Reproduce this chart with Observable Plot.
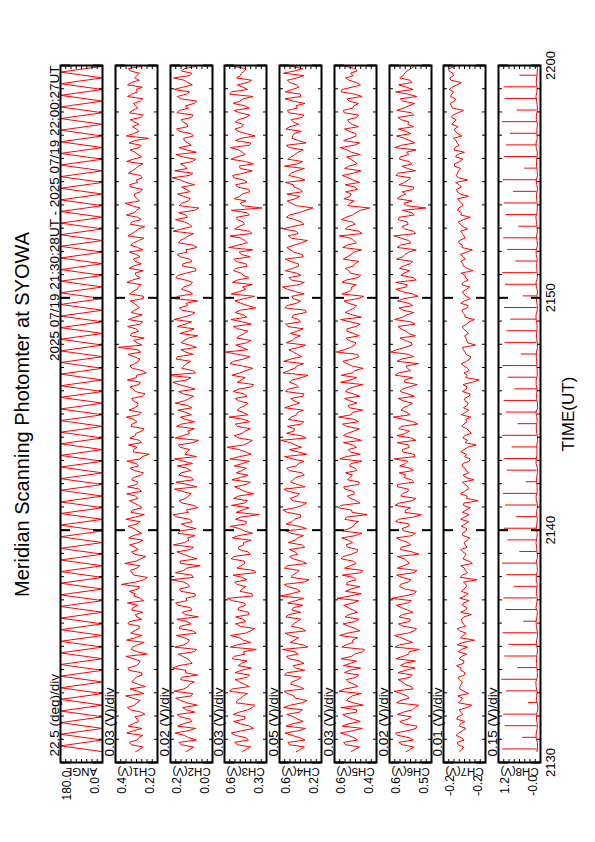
<!DOCTYPE html>
<html><head><meta charset="utf-8">
<script src="https://cdn.jsdelivr.net/npm/d3@7"></script>
<script src="https://cdn.jsdelivr.net/npm/@observablehq/plot@0.6"></script>
<style>
html,body{margin:0;padding:0;background:#fff;overflow:hidden;width:595px;height:842px}
#land{position:absolute;left:0;top:0;width:842px;height:595px;transform-origin:0 0;transform:translate(0,842px) rotate(-90deg);font-family:"Liberation Sans",Arial,Helvetica,sans-serif;color:#000}
#title{position:absolute;left:79px;width:697px;top:12px;font-size:20px;line-height:20px;text-align:center;white-space:nowrap}
svg{overflow:visible}
</style></head>
<body><div id="land"><div id="title"></div></div>
<script>
// ---------- data ----------
const titleText = "Meridian Scanning Photomter at SYOWA";
const rangeText = "2025 07/19 21:30:28UT - 2025 07/19 22:00:27UT";
const timeLabel = "TIME(UT)";
const startISO = "2025-07-19T21:30:28Z";
const axisStartISO = "2025-07-19T21:30:00Z";
const axisEndISO = "2025-07-19T22:00:00Z";

const panelNames = ["ANGL","CH1(V)","CH2(V)","CH3(V)","CH4(V)","CH5(V)","CH6(V)","CH7(V)","CH8(V)"];
const divLabels = ["22.5 (deg)/div","0.03 (V)/div","0.02 (V)/div","0.03 (V)/div","0.05 (V)/div","0.03 (V)/div","0.02 (V)/div","0.01 (V)/div","0.15 (V)/div"];
const divSizes = [22.5, 0.03, 0.02, 0.03, 0.05, 0.03, 0.02, 0.01, 0.15];
const yMins = [0, 0.18, 0.04, 0.33, 0.20, 0.36, 0.46, -0.24, -0.03];
const topLabels = ["180.0","0.4","0.2","0.6","0.6","0.6","0.6","-0.2","1.2"];
const bottomLabels = ["0.0","0.2","0.0","0.3","0.2","0.4","0.5","-0.2","-0.0"];

const angleStepSec = 15;
const sampleStepSec = 12;   // set A at +0 s, set B at +6 s
const sampleBOffsetSec = 6;
const ch8BaseStepSec = 24;  // base A at +0 s, base B at +12 s
const ch8BaseBOffsetSec = 12;
const spikeStepSec = 30;
const spikeOffsetSec = 7;

const angleDeg = [0,180,0,180,0,180,0,180,0,180,0,180,0,180,0,180,0,180,0,180,
0,180,0,180,0,180,0,180,0,180,0,180,0,180,0,180,0,180,0,180,
0,180,0,180,0,180,0,180,0,180,0,180,0,180,0,180,0,180,0,180,
0,180,0,180,0,180,0,180,0,180,0,180,0,180,0,180,0,180,0,180,
0,180,0,180,0,180,0,180,0,180,0,180,0,180,0,180,0,180,0,180,
0,180,0,180,0,180,0,180,0,180,0,180,0,180,0,180,0,180,0,180,0];

const ch1mV = [305,262,341,288,356,270,319,297,251,334,310,279,362,295,248,
327,301,272,349,286,318,239,330,294,357,268,312,283,340,299,
264,321,352,277,309,290,386,258,316,335,281,302,246,328,311,
289,344,270,313,298,361,255,322,287,339,306,273,351,292,318,
260,337,301,279,226,315,346,283,308,269,331,297,358,274,310,
293,327,251,319,286,352,300,265,338,289,314,276,404,297,256,
329,304,281,347,268,312,295,336,259,321,290,355,278,308,341,
272,318,299,263,333,287,349,305,252,326,294,311,280,365,296,
314,266,340,302,277,325,291,357,270,309,284,343,231,317,300,
288,336,261,322,305,278,351,294,267,330,310,283,346,299,319];
const ch1BmV = [281,330,296,264,318,347,287,309,273,352,299,321,258,337,290,
315,268,343,302,279,361,295,322,256,310,333,286,349,271,306,
328,292,259,316,341,283,304,237,325,298,367,276,313,290,339,
262,318,295,348,279,307,332,269,314,291,356,284,301,327,274,
312,289,355,268,319,296,272,338,303,257,326,315,285,343,292,
320,266,306,337,278,299,244,324,310,281,347,293,270,316,335,
288,351,265,309,330,284,316,261,340,297,274,322,303,261,318,
306,280,342,294,317,258,325,289,336,273,358,300,327,284,311,
277,332,295,268,346,303,263,318,291,337,274,310,358,286,324,
309,275,340,293,318,264,327,302,351,285,298,336,269,314,292];

const ch2mV = [140,112,168,131,183,104,152,126,175,139,98,161,121,186,133,
109,157,144,192,118,136,171,101,149,128,178,115,163,137,94,
155,124,181,142,107,166,133,198,119,150,87,164,129,176,112,
147,135,172,103,158,126,189,140,111,167,132,154,99,179,122,
160,138,116,185,145,127,170,93,153,134,177,108,162,141,119,
182,129,151,106,168,137,213,115,148,123,174,142,101,159,131,
165,110,144,187,120,156,135,97,171,128,149,116,180,139,105,
152,126,175,141,113,163,131,190,118,147,136,169,92,158,124,
173,140,108,161,129,184,145,117,155,102,168,134,150,121,177,
137,159,114,166,143,100,174,127,153,135,188,119,146,130,162];
const ch2BmV = [126,159,101,147,134,173,118,165,107,154,137,180,115,149,128,
162,97,141,170,125,153,109,184,133,146,102,167,121,176,143,
118,171,136,105,160,127,149,113,181,138,161,99,152,125,189,
130,106,164,139,117,176,131,95,155,143,121,185,136,112,168,
123,174,149,101,137,163,115,182,128,109,158,144,120,171,134,
146,112,169,134,191,122,104,157,138,179,113,160,127,148,96,
131,175,120,152,107,166,141,185,116,158,124,143,171,103,154,
118,163,137,99,170,145,112,156,128,181,141,108,167,133,150,
126,158,141,193,115,137,162,104,179,139,121,147,113,166,135,
152,120,176,131,110,161,139,187,117,148,126,158,102,172,141];

const ch3mV = [467,421,512,448,531,405,479,456,520,437,395,498,462,541,429,
484,440,509,416,473,527,452,388,496,463,535,419,481,447,506,
433,488,457,552,414,470,499,442,521,401,476,458,517,436,490,
461,525,410,483,449,507,372,468,530,439,492,455,513,422,478,
503,445,469,538,418,487,460,411,515,451,496,427,544,464,482,
435,508,459,491,403,474,528,447,466,519,424,563,471,443,500,
456,494,417,533,462,480,438,511,399,485,467,524,430,476,505,
448,517,472,409,493,455,539,426,488,463,501,441,357,479,514,
470,432,506,458,523,412,486,450,497,468,536,420,477,444,510,
462,491,425,516,453,482,407,529,466,439,502,474,447,519,458];
const ch3BmV = [445,496,433,508,472,427,519,452,486,411,503,478,438,525,455,
509,427,475,492,441,515,463,536,420,484,451,399,507,466,430,
493,450,526,409,481,447,512,468,391,499,455,532,423,487,461,
418,490,458,536,444,476,503,429,455,517,402,481,446,528,437,
471,514,427,483,449,555,432,489,470,422,508,459,435,498,451,
490,441,521,416,497,452,483,409,539,461,492,438,505,419,484,
437,520,468,443,509,392,476,455,531,448,412,496,463,518,440,
503,423,487,546,439,474,414,512,456,497,428,531,467,448,482,
426,495,441,517,462,479,404,533,451,488,427,507,395,492,469,
508,446,485,429,521,463,540,438,496,415,478,455,527,433,486];

const ch4mV = [440,362,519,405,548,351,472,428,531,383,496,337,463,557,410,
481,392,527,445,366,509,423,574,378,457,502,349,488,431,540,
398,466,522,372,484,437,556,319,475,413,529,391,503,452,360,
517,426,491,344,538,459,402,568,381,470,434,513,356,495,447,
385,532,418,479,341,507,451,590,396,462,524,370,487,429,551,
408,493,366,521,443,478,329,514,435,561,389,468,416,536,455,
499,376,541,420,465,352,528,401,483,446,572,364,510,438,474,
421,545,387,498,459,335,516,442,477,394,533,412,281,486,450,
530,403,469,358,512,436,553,379,490,425,508,347,481,461,539,
417,489,367,524,444,471,398,546,415,501,433,562,375,492,439];
const ch4BmV = [398,505,356,482,417,539,374,466,412,561,389,448,520,368,493,
425,553,360,471,409,534,452,331,498,419,546,385,466,397,513,
482,377,445,591,403,520,365,488,437,553,341,470,428,507,386,
453,372,536,414,480,395,527,451,343,499,410,558,427,474,364,
508,441,367,552,421,388,495,346,534,457,392,516,438,372,485,
462,377,541,420,504,388,566,453,371,489,428,511,353,478,402,
432,518,399,483,346,549,437,470,364,523,411,488,397,545,419,
496,373,463,530,391,487,420,569,368,452,506,349,438,527,406,
381,461,544,412,488,363,429,521,454,373,537,418,474,392,500,
467,384,512,429,357,548,404,479,438,526,366,455,503,401,482];

const ch5mV = [504,457,548,489,566,441,517,495,553,472,436,531,499,574,466,
520,478,543,451,509,562,486,428,535,497,571,455,516,482,540,
469,522,492,584,447,506,533,476,556,439,511,493,551,471,525,
496,559,444,518,485,541,413,503,564,474,527,490,547,458,513,
537,480,505,569,452,521,494,446,549,487,530,463,577,498,515,
471,542,493,526,438,508,561,483,501,553,460,590,507,478,534,
491,528,453,566,497,514,474,545,434,519,502,557,465,510,538,
484,550,506,445,527,490,572,461,522,499,535,477,398,512,547,
505,468,539,493,556,449,520,486,531,503,568,456,511,480,543,
498,524,462,549,489,517,443,562,500,475,536,509,482,551,494];
const ch5BmV = [482,537,468,521,498,556,452,529,475,564,491,519,447,541,488,
533,461,514,549,474,503,438,558,495,468,527,482,551,459,518,
495,548,463,511,537,454,526,491,449,543,476,562,502,467,534,
521,479,556,492,463,530,499,578,455,508,486,541,462,525,497,
473,516,442,533,510,475,549,492,527,458,554,484,505,439,522,
512,456,537,489,565,472,499,437,528,496,469,543,485,520,458,
530,478,511,447,539,486,522,465,557,501,476,534,450,518,492,
461,527,489,553,475,509,442,538,482,560,497,453,524,488,512,
536,485,457,521,492,542,470,509,452,527,489,548,476,515,464,
519,472,545,496,463,528,484,556,451,517,493,471,539,458,526];

const ch6mV = [556,527,585,544,597,519,566,549,590,533,509,578,552,603,536,
570,541,588,522,563,596,547,506,581,555,601,525,568,543,584,
531,574,551,612,524,560,579,538,593,515,567,553,591,535,576,
549,594,521,572,545,586,498,558,599,534,577,550,589,527,565,
583,542,559,602,526,571,548,520,592,544,575,530,606,553,567,
533,587,550,573,514,562,598,540,557,591,528,615,561,537,580,
546,576,523,601,554,568,532,589,511,571,557,595,529,564,582,
541,593,561,518,578,547,604,529,573,552,583,536,481,566,590,
558,530,584,548,596,521,572,545,579,555,600,524,563,539,586,
551,575,528,592,546,569,516,597,556,535,581,562,538,594,549];
const ch6BmV = [541,573,529,588,552,516,581,538,567,522,593,546,575,530,562,
587,534,559,578,521,569,545,599,532,574,550,517,586,541,571,
552,594,537,565,518,581,549,572,527,590,544,563,508,578,539,
575,533,566,547,597,528,562,540,583,519,571,548,591,536,557,
529,581,550,523,569,544,591,537,558,585,512,566,541,576,547,
568,526,579,545,562,531,586,552,509,574,547,593,534,560,521,
559,588,539,570,527,584,546,565,531,596,552,518,577,543,568,
532,569,547,591,538,575,520,562,549,587,526,571,555,534,580,
571,527,563,540,587,551,534,582,546,519,575,542,593,557,528,
545,588,537,566,524,579,549,530,585,542,568,553,526,577,561];

const ch7mV = [-191,-198,-186,-194,-189,-203,-192,-185,-197,-190,-214,-193,-187,-199,-191,
-196,-188,-201,-193,-198,-190,-204,-194,-186,-219,-197,-191,-202,-195,-199,
-193,-205,-198,-191,-207,-199,-203,-224,-196,-201,-193,-208,-200,-197,-205,
-199,-210,-196,-204,-201,-193,-209,-203,-198,-226,-205,-200,-207,-196,-203,
-208,-201,-197,-211,-204,-199,-222,-206,-200,-209,-195,-205,-212,-202,-198,
-207,-200,-211,-203,-197,-228,-205,-209,-199,-204,-212,-201,-196,-206,-203,
-208,-198,-204,-219,-201,-195,-207,-200,-203,-196,-210,-198,-202,-194,-205,
-197,-201,-192,-215,-196,-190,-199,-193,-197,-188,-211,-194,-189,-195,-187,
-192,-185,-190,-206,-184,-188,-181,-191,-183,-200,-182,-186,-179,-187,-181,
-176,-184,-178,-198,-175,-181,-173,-179,-176,-194,-172,-178,-171,-177,-173];
const ch7BmV = [-195,-188,-199,-184,-196,-190,-201,-187,-193,-205,-189,-196,-208,-191,-194,
-190,-200,-193,-185,-199,-195,-188,-206,-197,-192,-203,-186,-198,-194,-213,
-202,-196,-209,-201,-194,-204,-198,-192,-206,-200,-215,-197,-203,-193,-201,
-205,-197,-203,-194,-208,-200,-196,-211,-199,-204,-192,-207,-201,-218,-197,
-203,-195,-209,-200,-193,-206,-201,-197,-213,-204,-199,-202,-194,-208,-205,
-201,-209,-196,-205,-214,-202,-199,-206,-194,-210,-203,-198,-221,-204,-200,
-203,-196,-209,-201,-197,-205,-193,-211,-199,-204,-195,-207,-201,-216,-198,
-193,-198,-204,-195,-189,-201,-196,-206,-192,-198,-193,-187,-197,-190,-208,
-186,-194,-183,-189,-187,-193,-181,-197,-186,-180,-190,-184,-195,-182,-188,
-180,-175,-188,-177,-173,-183,-176,-171,-186,-174,-179,-170,-182,-175,-169];

const ch8BasemV = [72,58,91,64,83,49,77,95,61,70,88,53,79,66,97,57,74,85,62,90,
68,51,82,75,93,59,71,87,64,80,55,96,69,78,60,89,73,52,84,67,
94,63,76,86,57,81,70,98,61,75,88,54,79,66,92,71,58,85,73,63,
90,77,56,83,69,95,62,74,87,59,80,72,91,65,78];
const ch8BaseBmV = [55,98,63,84,47,90,69,103,58,81,66,94,52,87,73,100,60,79,92,56,85,71,99,62,76,89,53,97,68,82,
59,93,74,50,86,65,101,57,80,95,61,77,91,54,88,70,96,64,83,51,99,67,78,93,55,84,72,102,60,81,
49,94,66,87,58,97,75,53,89,62,100,69,82,56,91];
const ch8SpikeBasemV = 70;
const ch8SpikesmV = [1050,480,980,1020,310,940,1080,620,990,870,1040,450,960,1010,720,
930,1060,560,900,1000,650,970,1030,380,920,990,780,1050,610,950,
1010,700,890,1040,520,980,930,820,1000,460,970,1050,680,910,1020,
590,960,1000,740,1030,420,990,940,830,1060,640,980,1010,560,950];

// ---------- build ----------
document.getElementById("title").textContent = titleText;
const t0 = Date.parse(startISO);
const toRows = (vals, step, scale, offset = 0) =>
  vals.map((v, i) => ({t: new Date(t0 + (offset + i * step) * 1000), v: v * scale}));
const merge = (a, b) => a.concat(b).sort((p, q) => p.t - q.t);
const mv = 0.001;
const seriesRows = [
  toRows(angleDeg, angleStepSec, 1),
  merge(toRows(ch1mV, sampleStepSec, mv), toRows(ch1BmV, sampleStepSec, mv, sampleBOffsetSec)),
  merge(toRows(ch2mV, sampleStepSec, mv), toRows(ch2BmV, sampleStepSec, mv, sampleBOffsetSec)),
  merge(toRows(ch3mV, sampleStepSec, mv), toRows(ch3BmV, sampleStepSec, mv, sampleBOffsetSec)),
  merge(toRows(ch4mV, sampleStepSec, mv), toRows(ch4BmV, sampleStepSec, mv, sampleBOffsetSec)),
  merge(toRows(ch5mV, sampleStepSec, mv), toRows(ch5BmV, sampleStepSec, mv, sampleBOffsetSec)),
  merge(toRows(ch6mV, sampleStepSec, mv), toRows(ch6BmV, sampleStepSec, mv, sampleBOffsetSec)),
  merge(toRows(ch7mV, sampleStepSec, mv), toRows(ch7BmV, sampleStepSec, mv, sampleBOffsetSec)),
  merge(toRows(ch8BasemV, ch8BaseStepSec, mv), toRows(ch8BaseBmV, ch8BaseStepSec, mv, ch8BaseBOffsetSec))
];
const spikeRows = ch8SpikesmV.map((v, i) => ({
  t: new Date(t0 + (spikeOffsetSec + i * spikeStepSec) * 1000),
  v: v * mv, base: ch8SpikeBasemV * mv
}));

const land = document.getElementById("land");
const xDomain = [new Date(axisStartISO), new Date(axisEndISO)];
const xEnd = new Date(+xDomain[1] + 1);
const minorTicks = d3.utcMinute.every(1).range(xDomain[0], xEnd);
const majorTicks = d3.utcMinute.every(10).range(xDomain[0], xEnd);
const PANEL_TOP0 = 60, PANEL_STEP = 54.75, PANEL_H = 42, MT = 20;
const FONT = "Liberation Sans, Arial, Helvetica, sans-serif";
const blank = () => "";

for (let i = 0; i < 9; i++) {
  const last = i === 8;
  const MB = last ? 48 : 2;
  const lo = yMins[i], div = divSizes[i];
  const yDomain = [lo, lo + 8 * div];
  const yTicks = d3.range(9).map(k => lo + k * div);
  const marks = [
    Plot.line(seriesRows[i], {x: "t", y: "v", stroke: "#ff0000", strokeWidth: 1, clip: true})
  ];
  if (last) marks.push(Plot.ruleX(spikeRows, {x: "t", y1: "base", y2: "v", stroke: "#ff0000", strokeWidth: 1, clip: true}));
  marks.push(
    Plot.axisX({anchor: "bottom", ticks: minorTicks, tickSize: -3, tickFormat: blank, label: null}),
    Plot.axisX({anchor: "top", ticks: minorTicks, tickSize: -3, tickFormat: blank, label: null}),
    Plot.axisX({anchor: "bottom", ticks: majorTicks, tickSize: -9, strokeWidth: 2, tickFormat: blank, label: null}),
    Plot.axisX({anchor: "top", ticks: majorTicks, tickSize: -9, strokeWidth: 2, tickFormat: blank, label: null}),
    Plot.axisY({anchor: "left", ticks: yTicks, tickSize: -4, tickFormat: blank, label: null}),
    Plot.axisY({anchor: "right", ticks: yTicks, tickSize: -4, tickFormat: blank, label: null}),
    Plot.frame({stroke: "black", strokeWidth: 2}),
    Plot.text([divLabels[i]], {text: d => d, frameAnchor: "top-left", dx: 6, dy: -2, lineAnchor: "bottom", textAnchor: "start", fontSize: 13.5}),
    Plot.text([topLabels[i]], {text: d => d, frameAnchor: "top-left", dx: -23, dy: 2, lineAnchor: "top", textAnchor: "middle", fontSize: 12}),
    Plot.text([bottomLabels[i]], {text: d => d, frameAnchor: "bottom-left", dx: -23, dy: -4, lineAnchor: "bottom", textAnchor: "middle", fontSize: 12}),
    Plot.text([panelNames[i]], {text: d => d, frameAnchor: "left", dx: -5, rotate: -90, lineAnchor: "bottom", textAnchor: "middle", fontSize: 11.5})
  );
  if (i === 0) marks.push(Plot.text([rangeText], {text: d => d, frameAnchor: "top-right", dy: -2, lineAnchor: "bottom", textAnchor: "end", fontSize: 13.5}));
  if (last) marks.push(
    Plot.axisX({anchor: "bottom", ticks: majorTicks, tickSize: 0, tickPadding: 5, tickFormat: d3.utcFormat("%H%M"), fontSize: 13, label: null}),
    Plot.text([timeLabel], {text: d => d, frameAnchor: "bottom", dy: 28, lineAnchor: "middle", fontSize: 17})
  );
  const svg = Plot.plot({
    width: 842, height: PANEL_H + MT + MB,
    marginLeft: 79, marginRight: 66, marginTop: MT, marginBottom: MB,
    x: {type: "utc", domain: xDomain, label: null},
    y: {domain: yDomain, label: null},
    style: {background: "transparent", overflow: "visible", fontFamily: FONT, color: "black"},
    marks
  });
  svg.style.position = "absolute";
  svg.style.left = "0px";
  svg.style.top = (PANEL_TOP0 + i * PANEL_STEP - MT) + "px";
  land.appendChild(svg);
}
</script>
</body></html>
